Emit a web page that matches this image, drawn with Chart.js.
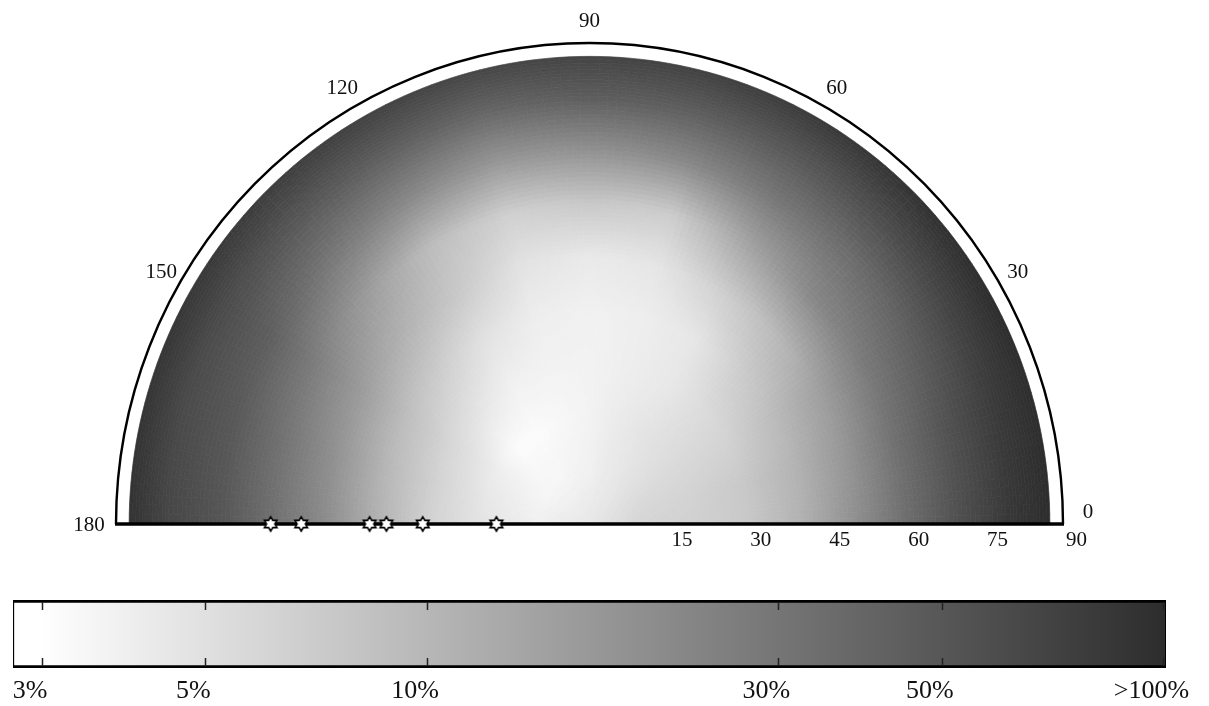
<!DOCTYPE html>
<html><head><meta charset="utf-8">
<script src="https://cdn.jsdelivr.net/npm/chart.js@4.4.1/dist/chart.umd.min.js"></script>
<style>
html,body{margin:0;padding:0;background:#fff;}
#wrap{position:relative;width:1209px;height:706px;overflow:hidden;background:#fff;}
#c1{position:absolute;left:0;top:0;}
#c2{position:absolute;left:0;top:590px;}
</style></head><body>
<div id="wrap"><canvas id="c1" width="1209" height="590"></canvas><canvas id="c2" width="1209" height="116"></canvas></div>
<script>
const azimuths = [0,15,30,45,60,75,90,105,120,135,150,165,180];
const zeniths  = [0,10,20,30,40,50,60,70,80,87.5];
const zen0  = [4.4,4.4,4.4,4.4,4.4,4.4,4.4,4.4,4.4,4.4,4.4,4.4,4.4];
const zen10 = [6.1,5.8,5.4,4.9,4.5,4.2,3.8,3.7,3.5,3.5,3.5,3.7,3.8];
const zen20 = [6.6,6.3,5.8,5.2,4.7,4.2,3.7,3.4,3.2,3.2,4.0,4.4,4.7];
const zen30 = [7.5,7.5,6.3,5.4,4.4,4.0,3.7,3.7,3.8,4.7,5.8,6.3,6.3];
const zen40 = [10.8,10.5,9.2,6.9,4.5,4.0,3.8,4.0,4.9,6.9,8.9,10.1,10.8];
const zen50 = [18.9,17.3,14.7,9.6,6.6,4.6,4.3,4.8,7.5,11.0,15.9,18.9,20.5];
const zen60 = [33.9,32.8,27.7,22.3,13.5,7.0,7.5,6.6,9.0,16.0,26.4,31.2,32.8];
const zen70 = [56.0,54.2,43.6,33.9,28.7,21.5,18.9,17.3,22.3,29.6,43.6,49.0,51.5];
const zen80 = [85.2,81.0,72.1,60.9,51.5,45.8,45.8,40.1,45.8,51.5,60.0,62.0,66.3];
const zen88 = [106,106,100.8,92.7,81.0,72.1,68.5,66.3,72.1,78.4,85.2,89.6,92.7];
const gridValues = [zen0,zen10,zen20,zen30,zen40,zen50,zen60,zen70,zen80,zen88];

const radialTicks = [15,30,45,60,75,90];
const angleTicks  = [0,30,60,90,120,150,180];

const starAzimuth = [180,180,180,180,180,180];
const starZenith  = [60.6,54.8,41.8,38.6,31.7,17.7];

const cbTickValues = [3,5,10,30,50,100];
const cbTickLabels = ['3%','5%','10%','30%','50%','>100%'];
const cbMin = 2.74, cbMax = 100.8;

// ---- colour scale ----
const WHITE_END = 0.0234, DARK = 45;
function fracOf(p){
  const f = Math.log(p/cbMin)/Math.log(cbMax/cbMin);
  return Math.max(0, Math.min(1, f));
}
function grayOfFrac(f){
  const g = f < WHITE_END ? 255 : 255 - (f-WHITE_END)/(1-WHITE_END)*(255-DARK);
  const v = Math.round(g);
  return 'rgb(' + v + ',' + v + ',' + v + ')';
}

const SERIF = '"Liberation Serif","DejaVu Serif",serif';
const rad = d => d*Math.PI/180;

// ---- heat map + frame plugin ----
const skyPlugin = {
  id: 'skyPlugin',
  beforeDatasetsDraw(chart){
    const {ctx, scales:{x, y}} = chart;
    const P = (az, zen) => [x.getPixelForValue(zen*Math.cos(rad(az))), y.getPixelForValue(zen*Math.sin(rad(az)))];
    const F = gridValues.map(row => row.map(fracOf));
    const sub = 12;
    ctx.save();
    ctx.lineJoin = 'round';
    for (let j = 0; j < zeniths.length-1; j++){
      for (let i = 0; i < azimuths.length-1; i++){
        const f00 = F[j][i], f10 = F[j][i+1], f01 = F[j+1][i], f11 = F[j+1][i+1];
        for (let a = 0; a < sub; a++){
          for (let b = 0; b < sub; b++){
            const u0 = a/sub, u1 = (a+1)/sub, v0 = b/sub, v1 = (b+1)/sub;
            const uc = (a+0.5)/sub, vc = (b+0.5)/sub;
            const f = f00*(1-uc)*(1-vc) + f10*uc*(1-vc) + f01*(1-uc)*vc + f11*uc*vc;
            const az0 = azimuths[i] + u0*(azimuths[i+1]-azimuths[i]);
            const az1 = azimuths[i] + u1*(azimuths[i+1]-azimuths[i]);
            const z0 = zeniths[j] + v0*(zeniths[j+1]-zeniths[j]);
            const z1 = zeniths[j] + v1*(zeniths[j+1]-zeniths[j]);
            const p1 = P(az0,z0), p2 = P(az1,z0), p3 = P(az1,z1), p4 = P(az0,z1);
            const col = grayOfFrac(f);
            ctx.beginPath();
            ctx.moveTo(p1[0],p1[1]); ctx.lineTo(p2[0],p2[1]); ctx.lineTo(p3[0],p3[1]); ctx.lineTo(p4[0],p4[1]);
            ctx.closePath();
            ctx.fillStyle = col; ctx.strokeStyle = col; ctx.lineWidth = 0.7;
            ctx.fill(); ctx.stroke();
          }
        }
      }
    }
    // outer ring at zenith 90
    const cx = x.getPixelForValue(0), cy = y.getPixelForValue(0);
    const rx = x.getPixelForValue(90) - cx, ry = cy - y.getPixelForValue(90);
    ctx.beginPath();
    ctx.ellipse(cx, cy, rx, ry, 0, Math.PI, 2*Math.PI);
    ctx.strokeStyle = '#000'; ctx.lineWidth = 2.4;
    ctx.stroke();
    // baseline
    ctx.beginPath();
    ctx.moveTo(x.getPixelForValue(-90)-1, cy);
    ctx.lineTo(x.getPixelForValue(90)+1, cy);
    ctx.lineWidth = 3.5;
    ctx.stroke();
    ctx.restore();
  },
  afterDraw(chart){
    const {ctx, scales:{x, y}} = chart;
    const cy = y.getPixelForValue(0);
    ctx.save();
    ctx.fillStyle = '#111';
    ctx.font = '21px ' + SERIF;
    // radial labels along the 0-azimuth baseline
    ctx.textAlign = 'left'; ctx.textBaseline = 'middle';
    radialTicks.forEach(v => {
      ctx.fillText(String(v), x.getPixelForValue(v) + 3, cy + 16);
    });
    // azimuth labels
    const R = 94;
    angleTicks.forEach(a => {
      const px = x.getPixelForValue(R*Math.cos(rad(a)));
      const py = y.getPixelForValue(R*Math.sin(rad(a)));
      ctx.textAlign = 'center';
      if (a === 0){
        ctx.textBaseline = 'alphabetic';
        ctx.fillText(String(a), px + 4, py - 6);
      } else {
        ctx.textBaseline = 'middle';
        ctx.fillText(String(a), px + (a === 180 ? -6 : 0), py + (a === 180 ? 1 : 0));
      }
    });
    ctx.restore();
  }
};

function makeHexagram(){
  const s = 18, c = document.createElement('canvas');
  c.width = s; c.height = s;
  const g = c.getContext('2d');
  const ro = 7.2, ri = ro/Math.sqrt(3), cx = s/2, cy = s/2;
  g.beginPath();
  for (let k = 0; k < 12; k++){
    const a = k*Math.PI/6;
    const r = k % 2 === 0 ? ro : ri;
    const px = cx + r*Math.sin(a), py = cy - r*Math.cos(a);
    if (k) g.lineTo(px,py); else g.moveTo(px,py);
  }
  g.closePath();
  g.fillStyle = '#fff'; g.fill();
  g.strokeStyle = '#000'; g.lineWidth = 1.6; g.lineJoin = 'miter';
  g.stroke();
  return c;
}

const starPoints = starZenith.map((z, k) => ({
  x: z*Math.cos(rad(starAzimuth[k])),
  y: Math.abs(z*Math.sin(rad(starAzimuth[k]))) < 1e-9 ? 0 : z*Math.sin(rad(starAzimuth[k]))
}));

new Chart(document.getElementById('c1'), {
  type: 'scatter',
  data: { datasets: [{
    label: 'stations',
    data: starPoints,
    pointStyle: makeHexagram(),
    pointRadius: 7,
    clip: false
  }]},
  options: {
    responsive: false, animation: false, events: [],
    layout: { padding: { left: 116, right: 146, top: 43, bottom: 66 } },
    plugins: { legend: { display: false }, tooltip: { enabled: false } },
    scales: {
      x: { type: 'linear', min: -90, max: 90, display: false },
      y: { type: 'linear', min: 0, max: 90, display: false }
    }
  },
  plugins: [skyPlugin]
});

// ---- colour bar ----
const cbPlugin = {
  id: 'cbPlugin',
  afterDatasetsDraw(chart){
    const {ctx, chartArea, scales:{x}} = chart;
    ctx.save();
    ctx.strokeStyle = '#222'; ctx.lineWidth = 1.5;
    cbTickValues.forEach(v => {
      const px = Math.round(x.getPixelForValue(v)) + 0.5;
      ctx.beginPath();
      ctx.moveTo(px, chartArea.top + 2); ctx.lineTo(px, chartArea.top + 10);
      ctx.moveTo(px, chartArea.bottom - 10); ctx.lineTo(px, chartArea.bottom - 2);
      ctx.stroke();
    });
    ctx.fillStyle = '#111';
    ctx.font = '26px ' + SERIF;
    ctx.textAlign = 'center'; ctx.textBaseline = 'middle';
    cbTickValues.forEach((v, k) => {
      ctx.fillText(cbTickLabels[k], x.getPixelForValue(v) - 12, chartArea.bottom + 23);
    });
    ctx.restore();
  }
};

new Chart(document.getElementById('c2'), {
  type: 'bar',
  data: {
    labels: ['scale'],
    datasets: [{
      data: [[cbMin, cbMax]],
      backgroundColor: (context) => {
        const chart = context.chart;
        if (!chart.chartArea) return '#888';
        const xs = chart.scales.x;
        const grad = chart.ctx.createLinearGradient(xs.getPixelForValue(cbMin), 0, xs.getPixelForValue(cbMax), 0);
        grad.addColorStop(0, grayOfFrac(0));
        grad.addColorStop(WHITE_END, grayOfFrac(WHITE_END));
        grad.addColorStop(1, grayOfFrac(1));
        return grad;
      },
      borderColor: '#000',
      borderWidth: { top: 3, bottom: 3, left: 1.5, right: 1.5 },
      borderSkipped: false,
      barPercentage: 1, categoryPercentage: 1
    }]
  },
  options: {
    indexAxis: 'y', responsive: false, animation: false, events: [],
    layout: { padding: { left: 13, right: 43, top: 10, bottom: 38 } },
    plugins: { legend: { display: false }, tooltip: { enabled: false } },
    scales: {
      x: { type: 'logarithmic', min: cbMin, max: cbMax, display: false },
      y: { display: false }
    }
  },
  plugins: [cbPlugin]
});
</script>
</body></html>
